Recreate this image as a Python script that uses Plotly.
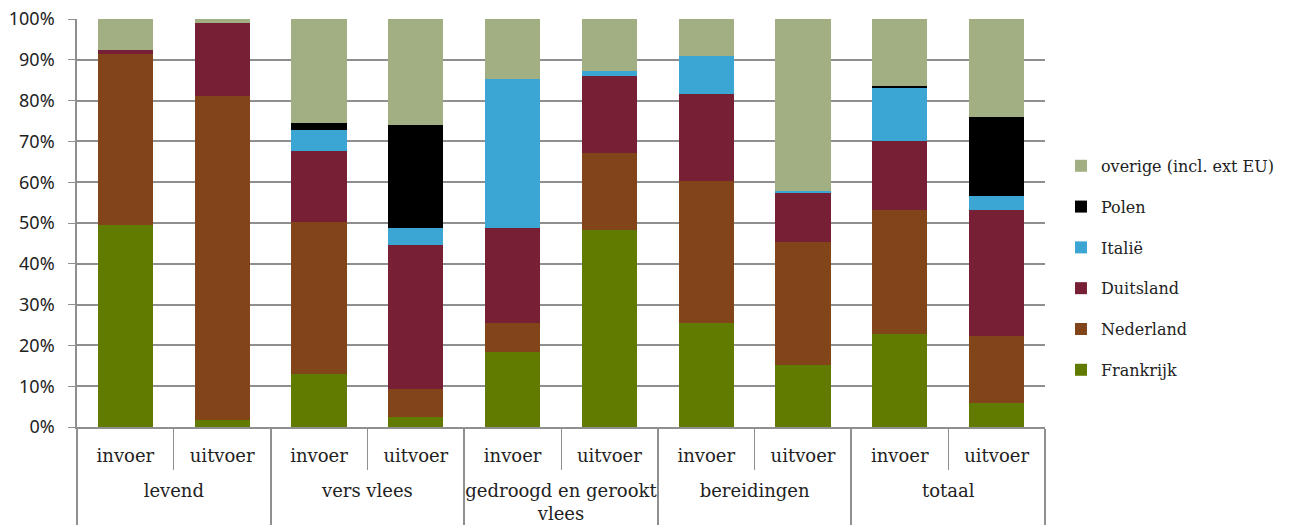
import plotly.graph_objects as go

groups = ["levend", "levend", "vers vlees", "vers vlees",
          "gedroogd en gerookt<br>vlees", "gedroogd en gerookt<br>vlees",
          "bereidingen", "bereidingen", "totaal", "totaal"]
flows = ["invoer", "uitvoer"] * 5

# shares in %
frankrijk = [49.6, 1.7, 13.0, 2.5, 18.3, 48.4, 25.5, 15.2, 22.8, 5.8]
nederland = [41.9, 79.5, 37.2, 6.8, 7.2, 18.8, 34.9, 30.1, 30.5, 16.5]
duitsland = [0.8, 17.7, 17.4, 35.3, 23.3, 18.9, 21.1, 12.0, 16.9, 31.0]
italie = [0.0, 0.0, 5.3, 4.2, 36.4, 1.1, 9.4, 0.6, 12.8, 3.2]
polen = [0.0, 0.0, 1.6, 25.1, 0.0, 0.0, 0.0, 0.0, 0.5, 19.4]
overige = [7.7, 1.1, 25.5, 26.1, 14.8, 12.8, 9.1, 42.1, 16.5, 24.1]

series = [
    ("Frankrijk", frankrijk, "#617A00"),
    ("Nederland", nederland, "#82451A"),
    ("Duitsland", duitsland, "#761F35"),
    ("Italië", italie, "#3BA5D4"),
    ("Polen", polen, "#000000"),
    ("overige (incl. ext EU)", overige, "#A1AF82"),
]

serif = "DejaVu Serif"
grey = "#8f8f8f"

# push the group labels down, like the reference
group_labels = ["<br>" + g for g in groups]

fig = go.Figure()
for i, (name, vals, col) in enumerate(series):
    fig.add_trace(go.Bar(
        x=[group_labels, flows], y=[v / 100 for v in vals], name=name,
        marker=dict(color=col, line=dict(width=0)),
        legendgroup=name, legendrank=100 - i,
    ))

fig.update_layout(
    width=1292, height=531,
    barmode="stack", bargap=0.43,
    plot_bgcolor="white", paper_bgcolor="white",
    margin=dict(l=77, r=247, t=19, b=104),
    font=dict(family=serif, size=17, color="#222"),
    legend=dict(
        x=1.0165, y=0.39, yanchor="middle", xanchor="left",
        traceorder="grouped", tracegroupgap=17,
        font=dict(family=serif, size=16, color="#222"),
        itemwidth=30, borderwidth=0,
    ),
    xaxis=dict(
        type="multicategory", automargin=False,
        showline=True, linecolor=grey, linewidth=1.5,
        ticks="outside", tickson="boundaries", ticklen=41, tickcolor=grey,
        showdividers=True, dividercolor=grey, dividerwidth=1.5,
        tickfont=dict(family=serif, size=18, color="#222"),
        ticklabelstandoff=12,
        showgrid=False,
    ),
    yaxis=dict(
        range=[0, 1], dtick=0.1, tickformat=".0%", automargin=False,
        showgrid=True, gridcolor=grey, gridwidth=1.5,
        showline=True, linecolor=grey, linewidth=1.5,
        ticks="outside", ticklen=7, tickcolor=grey,
        ticklabelstandoff=10, ticklabeloverflow="allow",
        tickfont=dict(family="Noto Sans", size=18, color="#222"),
        zeroline=False,
    ),
)

# drop the default 8px body margin so the figure sits at the page corner
fig.write_html("out.html", config={"displayModeBar": False},
               post_script="document.body.style.margin='0';")
